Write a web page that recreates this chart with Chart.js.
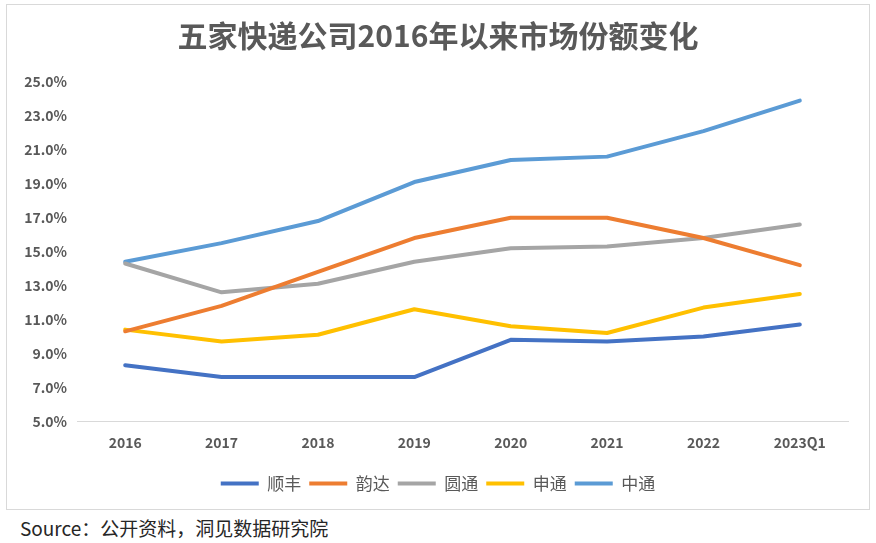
<!DOCTYPE html>
<html>
<head>
<meta charset="utf-8">
<script src="https://cdn.jsdelivr.net/npm/chart.js@4.4.0/dist/chart.umd.min.js"></script>
<style>
  html, body { margin: 0; padding: 0; background: #fff; }
  body { width: 876px; height: 543px; position: relative; overflow: hidden; font-family: "Noto Sans CJK SC", sans-serif; }
  #box { position: absolute; left: 6px; top: 4px; width: 864px; height: 506px; border: 1px solid #d9d9d9; box-sizing: border-box; }
  #source { position: absolute; left: 20px; top: 514px; font-size: 19px; color: #262626; }
</style>
</head>
<body>
<div id="box"><canvas id="myChart"></canvas></div>
<div id="source">Source：公开资料，洞见数据研究院</div>
<script>
// categorias y series (cuota de mercado, %)
const years = ["2016", "2017", "2018", "2019", "2020", "2021", "2022", "2023Q1"];
const shunfeng = [8.3, 7.6, 7.6, 7.6, 9.8, 9.7, 10.0, 10.7];
const yunda    = [10.3, 11.8, 13.8, 15.8, 17.0, 17.0, 15.8, 14.2];
const yuantong = [14.3, 12.6, 13.1, 14.4, 15.2, 15.3, 15.8, 16.6];
const shentong = [10.4, 9.7, 10.1, 11.6, 10.6, 10.2, 11.7, 12.5];
const zhongtong = [14.4, 15.5, 16.8, 19.1, 20.4, 20.6, 22.1, 23.9];
const yTicks = [5, 7, 9, 11, 13, 15, 17, 19, 21, 23, 25];

const txt = '#595959';
const font = '"Noto Sans CJK SC", sans-serif';

function serie(label, data, color) {
    return {
        label: label,
        data: data,
        borderColor: color,
        backgroundColor: color,
        borderWidth: 4,
        borderCapStyle: 'round',
        borderJoinStyle: 'round',
        pointRadius: 0,
        tension: 0
    };
}

const ctx = document.getElementById('myChart').getContext('2d');

new Chart(ctx, {
    type: 'line',
    data: {
        labels: years,
        datasets: [
            serie('顺丰', shunfeng, '#4472C4'),
            serie('韵达', yunda, '#ED7D31'),
            serie('圆通', yuantong, '#A5A5A5'),
            serie('申通', shentong, '#FFC000'),
            serie('中通', zhongtong, '#5B9BD5')
        ]
    },
    options: {
        responsive: true,
        maintainAspectRatio: false,
        animation: false,
        layout: { padding: { left: 0, right: 0, top: 0, bottom: 7 } },
        scales: {
            x: {
                offset: true,
                afterFit: axis => { axis.height += 3; },
                grid: { display: false, drawTicks: false },
                border: { display: true, color: '#d9d9d9', width: 1 },
                ticks: { color: txt, font: { family: font, size: 14, weight: 'bold' }, padding: 13 }
            },
            y: {
                min: 5,
                max: 25,
                afterBuildTicks: axis => { axis.ticks = yTicks.map(v => ({ value: v })); },
                afterFit: axis => { axis.width = 70; },
                grid: { display: false, drawTicks: false },
                border: { display: false },
                ticks: {
                    color: txt,
                    font: { family: font, size: 14, weight: 'bold' },
                    padding: 10,
                    callback: v => v.toFixed(1) + '%'
                }
            },
            // eje vacio a la derecha: solo deja margen sin descentrar titulo y leyenda
            y2: {
                position: 'right',
                min: 5,
                max: 25,
                afterFit: axis => { axis.width = 21; },
                grid: { display: false, drawTicks: false },
                border: { display: false },
                ticks: { display: false }
            }
        },
        plugins: {
            title: {
                display: true,
                text: '五家快递公司2016年以来市场份额变化',
                color: txt,
                font: { family: font, size: 30, weight: 'bold' },
                padding: { top: 13, bottom: 28 }
            },
            legend: {
                position: 'bottom',
                labels: {
                    color: txt,
                    font: { family: font, size: 17 },
                    usePointStyle: true,
                    pointStyle: 'line',
                    pointStyleWidth: 38,
                    padding: 8
                }
            },
            tooltip: { enabled: false }
        }
    }
});
</script>
</body>
</html>
